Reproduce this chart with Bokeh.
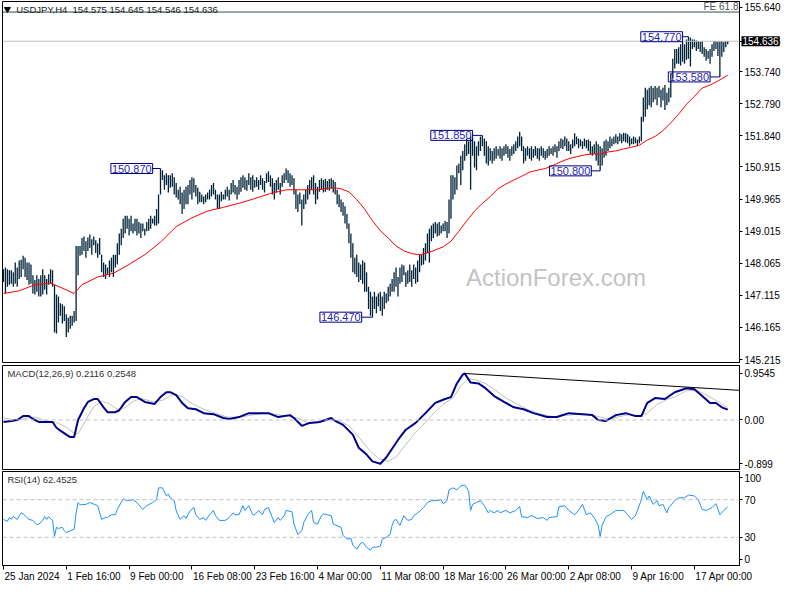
from bokeh.plotting import figure
from bokeh.layouts import column
from bokeh.models import Range1d, FixedTicker, PrintfTickFormatter, Label, Span
from bokeh.core.properties import value
from bokeh.embed import file_html
from bokeh.resources import INLINE

# ---------------- data ----------------
high = [
    147.89, 147.94, 147.89, 147.86, 147.86, 147.80, 148.09, 147.94, 148.15, 148.17,
    148.29, 148.23, 148.09, 148.09, 148.03, 147.71, 147.57, 147.71, 147.60, 147.71,
    147.89, 147.71, 147.60, 147.74, 147.89, 147.86, 147.43, 147.14, 147.08, 146.88,
    146.85, 146.79, 146.56, 146.45, 146.51, 146.51, 146.65, 148.58, 148.58, 148.58,
    148.81, 148.86, 148.72, 148.83, 148.92, 148.78, 148.86, 148.75, 148.66, 148.81,
    148.32, 148.09, 148.03, 147.94, 148.15, 148.23, 148.32, 148.32, 148.66, 148.95,
    149.09, 149.38, 149.47, 149.47, 149.38, 149.47, 149.24, 149.38, 149.38, 149.29,
    149.24, 149.24, 149.09, 149.29, 149.38, 149.47, 149.38, 149.47, 149.67, 150.10,
    150.87, 150.82, 150.67, 150.73, 150.67, 150.67, 150.73, 150.61, 150.44, 150.24,
    150.33, 150.16, 150.24, 150.33, 150.38, 150.53, 150.61, 150.58, 150.38, 150.30,
    150.18, 150.10, 150.04, 150.10, 150.16, 150.24, 150.38, 150.44, 150.24, 150.10,
    150.10, 150.18, 150.10, 150.24, 150.33, 150.24, 150.44, 150.53, 150.38, 150.33,
    150.53, 150.61, 150.67, 150.61, 150.53, 150.73, 150.61, 150.67, 150.53, 150.61,
    150.53, 150.67, 150.58, 150.50, 150.73, 150.79, 150.67, 150.58, 150.44, 150.53,
    150.61, 150.44, 150.67, 150.73, 150.87, 150.82, 150.73, 150.67, 150.58, 150.24,
    150.10, 150.16, 149.95, 150.10, 150.24, 150.38, 150.53, 150.61, 150.67, 150.44,
    150.33, 150.53, 150.58, 150.53, 150.56, 150.50, 150.56, 150.58, 150.53, 150.47,
    150.24, 150.10, 149.95, 149.87, 149.75, 149.52, 149.24, 148.95, 148.66, 148.23,
    148.32, 148.09, 148.03, 148.15, 148.09, 147.80, 147.37, 147.22, 147.08, 147.22,
    147.08, 147.17, 147.22, 147.08, 147.22, 147.17, 147.37, 147.46, 147.60, 147.80,
    147.94, 147.66, 147.94, 148.03, 148.00, 147.80, 147.86, 148.03, 147.86, 148.03,
    147.94, 148.15, 148.32, 148.32, 148.52, 148.66, 148.95, 149.09, 149.18, 149.24,
    149.29, 149.24, 149.29, 149.18, 149.24, 149.32, 149.29, 149.95, 150.67, 150.67,
    150.61, 150.96, 151.02, 151.25, 151.39, 151.59, 151.76, 151.68, 151.82, 151.76,
    151.68, 151.53, 151.68, 151.82, 151.85, 151.76, 151.68, 151.53, 151.47, 151.39,
    151.47, 151.53, 151.45, 151.53, 151.47, 151.53, 151.59, 151.53, 151.45, 151.53,
    151.59, 151.68, 151.82, 151.96, 151.82, 151.53, 151.47, 151.53, 151.47, 151.53,
    151.45, 151.53, 151.47, 151.47, 151.53, 151.47, 151.39, 151.45, 151.53, 151.47,
    151.53, 151.59, 151.53, 151.68, 151.76, 151.73, 151.82, 151.76, 151.68, 151.59,
    151.73, 151.91, 151.82, 151.76, 151.73, 151.68, 151.76, 151.71, 151.73, 151.68,
    151.53, 151.59, 151.68, 151.59, 151.53, 151.47, 151.68, 151.73, 151.68, 151.82,
    151.76, 151.82, 151.88, 151.82, 151.91, 151.88, 151.93, 151.91, 151.88, 151.82,
    151.76, 151.82, 151.79, 151.73, 151.82, 152.40, 152.97, 153.26, 153.20, 153.26,
    153.31, 153.26, 153.31, 153.26, 153.31, 153.20, 153.26, 153.34, 153.11, 153.26,
    153.69, 154.12, 154.41, 154.41, 154.46, 154.55, 154.61, 154.55, 154.69, 154.77,
    154.75, 154.69, 154.69, 154.66, 154.64, 154.61, 154.64, 154.46, 154.41, 154.35,
    154.41, 154.55, 154.64, 154.64, 154.61, 154.64, 154.64, 154.61, 154.64, 154.645,
]
low = [
    147.51, 147.17, 147.37, 147.43, 147.46, 147.37, 147.46, 147.37, 147.60, 147.66,
    147.89, 147.66, 147.57, 147.43, 147.46, 147.17, 147.14, 147.22, 147.08, 147.08,
    147.14, 147.28, 147.14, 147.43, 147.46, 147.37, 146.02, 145.99, 146.31, 146.51,
    146.28, 146.36, 145.88, 146.02, 146.13, 146.22, 146.31, 146.36, 147.71, 148.29,
    148.32, 148.43, 148.23, 148.43, 148.52, 148.32, 148.60, 148.37, 148.23, 148.32,
    147.80, 147.66, 147.60, 147.74, 147.66, 147.80, 147.66, 147.94, 148.03, 148.32,
    148.60, 148.81, 148.95, 149.09, 148.89, 149.01, 148.95, 149.01, 148.89, 148.95,
    148.81, 149.01, 148.89, 149.01, 149.03, 149.09, 149.24, 149.18, 149.18, 149.24,
    150.10, 150.53, 150.24, 150.38, 150.16, 150.30, 150.33, 150.10, 150.01, 149.95,
    149.81, 149.52, 149.67, 149.81, 149.81, 150.10, 149.95, 150.16, 150.04, 149.81,
    149.87, 149.87, 149.81, 149.87, 149.95, 149.95, 150.04, 150.10, 149.95, 149.67,
    149.67, 149.90, 149.95, 149.95, 150.04, 149.92, 150.10, 150.16, 150.10, 149.95,
    150.10, 150.18, 150.30, 150.24, 150.21, 150.38, 150.24, 150.18, 150.30, 150.33,
    150.24, 150.38, 150.24, 150.16, 150.44, 150.47, 150.33, 150.10, 149.95, 150.16,
    150.24, 150.10, 150.33, 150.44, 150.53, 150.44, 150.33, 150.38, 150.10, 149.67,
    149.58, 149.81, 149.18, 149.67, 149.81, 149.95, 150.10, 150.24, 150.10, 149.81,
    149.95, 150.18, 150.24, 150.16, 150.18, 150.24, 150.21, 150.27, 150.16, 150.10,
    149.81, 149.72, 149.58, 149.47, 149.24, 149.09, 148.66, 148.23, 147.80, 147.74,
    147.66, 147.51, 147.57, 147.46, 147.22, 147.22, 146.71, 146.51, 146.47, 146.71,
    146.59, 146.79, 146.65, 146.51, 146.71, 146.88, 146.94, 147.08, 147.22, 147.22,
    147.37, 147.08, 147.46, 147.51, 147.71, 147.37, 147.46, 147.51, 147.37, 147.60,
    147.46, 147.51, 147.80, 148.00, 148.03, 148.15, 148.37, 148.09, 148.72, 148.81,
    148.95, 148.86, 148.89, 148.95, 149.01, 149.01, 148.81, 148.95, 149.38, 149.95,
    150.10, 150.24, 150.73, 150.38, 150.82, 151.10, 151.25, 151.30, 150.24, 151.25,
    150.90, 150.82, 151.25, 151.39, 151.53, 151.25, 151.02, 150.96, 151.10, 151.02,
    151.10, 151.16, 151.25, 151.16, 151.10, 151.25, 151.30, 151.19, 151.10, 151.25,
    151.30, 151.39, 151.47, 151.53, 151.39, 151.02, 151.10, 151.25, 151.16, 151.10,
    151.19, 151.25, 151.16, 151.10, 151.25, 151.19, 151.13, 151.19, 151.25, 151.30,
    151.25, 151.35, 151.19, 151.39, 151.47, 151.45, 151.53, 151.39, 151.39, 151.30,
    151.47, 151.53, 151.59, 151.47, 151.53, 151.45, 151.53, 151.47, 151.39, 151.30,
    151.25, 151.30, 151.10, 150.96, 150.80, 150.96, 151.19, 151.25, 151.39, 151.47,
    151.53, 151.59, 151.62, 151.59, 151.68, 151.62, 151.68, 151.65, 151.62, 151.53,
    151.59, 151.59, 151.62, 151.53, 151.62, 151.68, 152.25, 152.40, 152.62, 152.74,
    152.68, 152.83, 152.91, 152.74, 152.97, 152.68, 152.88, 152.60, 152.74, 152.83,
    152.97, 153.54, 153.83, 153.97, 153.97, 153.92, 154.03, 153.97, 154.09, 154.12,
    153.89, 154.41, 154.46, 154.35, 154.41, 154.32, 154.26, 154.18, 154.06, 154.12,
    153.97, 154.18, 154.35, 154.41, 154.20, 153.58, 154.18, 154.32, 154.46, 154.546,
]
last_open = 154.575
last_close = 154.636
symbol = "USDJPY,H4"

# moving average (red), read at sampled bars
ma_pts = [(0, 147.17), (8, 147.25), (16, 147.43), (24, 147.48), (32, 147.28), (36, 147.17),
          (40, 147.43), (48, 147.66), (56, 147.77), (64, 148.03), (72, 148.32), (80, 148.69),
          (88, 149.15), (96, 149.41), (104, 149.61), (112, 149.72), (120, 149.84), (128, 149.98),
          (136, 150.13), (144, 150.24), (152, 150.24), (160, 150.24), (168, 150.30), (172, 150.27),
          (176, 150.18), (180, 149.95), (184, 149.67), (188, 149.32), (192, 149.03), (196, 148.81),
          (200, 148.58), (204, 148.43), (208, 148.35), (212, 148.32), (216, 148.37), (220, 148.46),
          (224, 148.55), (228, 148.72), (232, 149.01), (236, 149.32), (240, 149.61), (244, 149.84),
          (248, 150.04), (252, 150.27), (256, 150.41), (260, 150.53), (264, 150.64), (268, 150.76),
          (272, 150.82), (276, 150.87), (280, 150.96), (284, 151.07), (288, 151.16), (292, 151.22),
          (296, 151.27), (300, 151.30), (304, 151.30), (308, 151.36), (312, 151.39), (316, 151.45),
          (320, 151.50), (324, 151.56), (328, 151.71), (332, 151.82), (336, 151.99), (340, 152.22),
          (344, 152.48), (348, 152.77), (352, 153.00), (356, 153.25), (360, 153.34), (364, 153.46),
          (369, 153.63)]

macd_pts = [(0, -0.04), (4, -0.02), (7, 0.00), (10, 0.08), (13, 0.08), (15, 0.02), (18, -0.04),
            (21, -0.04), (25, -0.04), (27, -0.16), (29, -0.22), (32, -0.30), (34, -0.35), (36, -0.35),
            (38, 0.00), (41, 0.24), (43, 0.37), (46, 0.43), (48, 0.43), (51, 0.26), (53, 0.16),
            (57, 0.16), (59, 0.20), (62, 0.37), (65, 0.47), (68, 0.47), (72, 0.37), (77, 0.33),
            (80, 0.47), (83, 0.57), (85, 0.57), (88, 0.51), (91, 0.35), (94, 0.24), (98, 0.22),
            (102, 0.14), (107, 0.12), (112, 0.04), (115, 0.02), (120, 0.06), (125, 0.14), (130, 0.14),
            (135, 0.14), (140, 0.06), (146, 0.10), (148, 0.04), (152, -0.12), (156, -0.06),
            (161, -0.04), (167, 0.04), (169, -0.02), (173, -0.10), (178, -0.30), (181, -0.57),
            (185, -0.71), (188, -0.85), (192, -0.899), (195, -0.77), (198, -0.59), (201, -0.41),
            (205, -0.20), (210, -0.06), (215, 0.14), (220, 0.35), (225, 0.43), (228, 0.47),
            (231, 0.75), (234, 0.93), (235, 0.9545), (238, 0.77), (242, 0.75), (245, 0.67),
            (250, 0.49), (255, 0.37), (260, 0.26), (265, 0.22), (270, 0.14), (277, 0.06), (282, 0.06),
            (288, 0.14), (295, 0.12), (300, 0.10), (303, 0.00), (307, -0.02), (312, 0.10), (317, 0.14),
            (322, 0.08), (325, 0.08), (328, 0.35), (332, 0.45), (337, 0.43), (342, 0.57), (348, 0.65),
            (352, 0.63), (356, 0.49), (360, 0.35), (363, 0.35), (366, 0.26), (369, 0.2116)]

signal_pts = [(0, 0.05), (7, -0.02), (12, 0.04), (16, 0.06), (21, -0.01), (27, -0.05), (32, -0.15),
              (36, -0.27), (38, -0.28), (42, 0.00), (46, 0.27), (50, 0.39), (54, 0.33), (58, 0.22),
              (62, 0.25), (66, 0.38), (70, 0.44), (76, 0.38), (81, 0.40), (86, 0.52), (91, 0.48),
              (96, 0.34), (102, 0.22), (108, 0.14), (114, 0.06), (120, 0.05), (126, 0.10), (132, 0.13),
              (138, 0.12), (144, 0.08), (150, 0.04), (155, -0.06), (160, -0.06), (166, 0.00),
              (171, -0.02), (176, -0.12), (181, -0.35), (186, -0.60), (191, -0.79), (196, -0.85),
              (200, -0.76), (205, -0.50), (210, -0.25), (215, -0.05), (220, 0.17), (225, 0.35),
              (229, 0.45), (233, 0.70), (237, 0.85), (241, 0.82), (246, 0.74), (251, 0.60), (256, 0.45),
              (262, 0.32), (268, 0.20), (274, 0.12), (280, 0.07), (286, 0.09), (293, 0.12), (299, 0.11),
              (304, 0.06), (309, 0.02), (314, 0.07), (319, 0.11), (324, 0.09), (328, 0.14), (333, 0.32),
              (338, 0.42), (343, 0.49), (348, 0.60), (353, 0.61), (358, 0.52), (363, 0.40), (369, 0.2548)]

# MACD trend line through the two peaks
trend_a = (235, 0.9545)
trend_b = (348, 0.675)

rsi_pts = [(0, 49), (2, 47), (3, 51), (4, 49), (5, 52), (7, 49), (8, 53), (9, 56), (10, 55), (12, 51),
           (13, 49), (15, 48), (17, 43.6), (18, 44), (20, 48), (21, 52), (22, 49), (23, 52), (25, 48),
           (26, 31), (27, 40.5), (28, 39.5), (30, 40.5), (31, 37), (32, 35), (34, 37), (36, 38.5),
           (37, 56), (38, 67), (39, 64.5), (42, 65), (44, 67), (47, 64.5), (48, 63.6), (50, 49),
           (52, 51), (53, 51), (55, 54), (57, 54), (58, 59.6), (61, 71), (63, 69), (66, 70), (68, 67),
           (71, 59.6), (73, 63.6), (76, 67), (78, 70), (79, 82.6), (81, 82.6), (83, 74), (84, 76),
           (85, 72), (87, 69), (88, 58), (90, 49), (92, 53), (93, 50), (95, 58), (97, 61.6), (98, 54),
           (100, 49), (102, 51), (103, 48), (105, 54), (107, 58.6), (108, 53), (110, 48), (113, 48),
           (115, 51), (117, 56), (118, 54), (120, 54), (122, 63.6), (123, 58.6), (125, 63.6),
           (127, 54), (128, 54), (130, 58.6), (132, 54), (133, 59.6), (135, 61.6), (137, 51),
           (138, 45.8), (140, 51), (141, 48), (143, 53), (144, 58.6), (147, 57), (148, 44), (150, 33),
           (152, 37), (153, 45.8), (155, 54), (157, 58.6), (158, 45.8), (160, 44), (162, 53),
           (163, 55), (165, 54), (167, 53), (168, 44), (172, 40.5), (173, 32), (175, 28), (177, 29),
           (178, 21.6), (180, 17.4), (182, 23.7), (183, 24.7), (185, 19.5), (187, 16.3), (188, 19.5),
           (190, 19.5), (192, 20.5), (193, 28), (195, 30), (197, 33), (198, 42.6), (199, 48),
           (200, 49), (202, 42.6), (203, 48), (204, 53), (206, 48), (208, 49), (209, 53), (211, 56),
           (213, 59.6), (214, 61.6), (216, 67), (218, 69), (221, 69), (223, 70), (224, 65.8),
           (226, 69), (227, 80.5), (229, 82.6), (231, 80.5), (233, 84.7), (235, 85.8), (237, 79),
           (238, 58.6), (239, 65), (241, 67), (243, 69), (245, 63.6), (247, 56), (248, 58.6),
           (250, 56), (252, 58.6), (253, 56), (256, 58.6), (258, 56), (261, 58.6), (263, 62.6),
           (264, 52), (267, 51), (269, 53), (272, 50), (275, 51), (277, 48), (278, 51), (282, 52),
           (283, 62.6), (286, 63.6), (288, 58.6), (291, 54), (293, 58.6), (295, 65), (297, 54),
           (299, 56), (301, 51), (303, 42.6), (304, 31), (305, 42.6), (307, 52), (309, 54),
           (312, 58.6), (314, 58.6), (316, 58.6), (318, 54), (320, 49), (322, 53), (323, 58.6),
           (325, 70), (326, 79), (328, 70), (329, 74), (331, 65), (333, 69), (334, 63.6), (336, 65),
           (338, 56), (339, 61.6), (342, 69), (344, 72), (347, 72), (349, 75), (352, 74), (354, 70),
           (356, 59.6), (358, 58.6), (361, 61.6), (363, 65.8), (365, 54), (367, 58.6), (369, 62.4525)]

fe_level = 155.50
fe_name = "FE 61.8"

# swing labels: price, bar of the extreme, box right edge offset (bars)
swing_price = [150.870, 151.850, 150.800, 146.470, 154.770, 153.580]
swing_bar = [80, 244, 304, 188, 349, 365]
swing_box_off = [-4, -5, -4.5, -5.5, -3, -5]

time_ticks = [0, 32, 64, 96, 128, 160, 192, 224, 256, 288, 320, 352]
time_labels = ["25 Jan 2024", "1 Feb 16:00", "9 Feb 00:00", "16 Feb 08:00", "23 Feb 16:00",
               "4 Mar 00:00", "11 Mar 08:00", "18 Mar 16:00", "26 Mar 00:00", "2 Apr 08:00",
               "9 Apr 16:00", "17 Apr 00:00"]
price_ticks = [155.640, 154.636, 153.740, 152.790, 151.840, 150.915, 149.965, 149.015,
               148.065, 147.115, 146.165, 145.215]
macd_ticks = [0.9545, 0.0, -0.899]
rsi_levels = [70, 30]

# ---------------- styling ----------------
FONT = "Liberation Sans"
BAR_COLOR = "#002238"
FW = 737
X0, X1 = -0.5, 375.0
x_range = Range1d(X0, X1)


def base_fig(h, y0, y1, top=1, bottom=1, xaxis=False):
    p = figure(frame_width=FW, frame_height=h, x_range=x_range, y_range=Range1d(y0, y1),
               output_backend="svg", toolbar_location=None, tools="",
               x_axis_location="below" if xaxis else None, y_axis_location="right",
               min_border_left=2, min_border_right=45, min_border_top=top, min_border_bottom=bottom,
               background_fill_color="white", border_fill_color="white")
    p.outline_line_color = "black"
    p.outline_line_width = 1
    p.xgrid.grid_line_color = None
    p.ygrid.grid_line_color = None
    ax = p.yaxis[0]
    ax.axis_line_color = "black"
    ax.major_tick_out = 3
    ax.major_tick_in = 0
    ax.minor_tick_out = 0
    ax.minor_tick_in = 0
    ax.major_label_standoff = 2
    ax.major_label_text_font = FONT
    ax.major_label_text_font_size = "10px"
    ax.major_label_text_color = "black"
    return p


# ---- main price panel ----
main = base_fig(361, 145.129, 155.812, top=1, bottom=3)
main.yaxis[0].ticker = FixedTicker(ticks=price_ticks)
main.yaxis[0].formatter = PrintfTickFormatter(format="%.3f")

main.add_layout(Label(x=281.5, y=147.65, text="ActionForex.com", text_align="center",
                      text_baseline="middle", text_font=FONT, text_font_size="24px",
                      text_color="#c3c3c3", level="underlay"))

main.add_layout(Span(location=fe_level, dimension="width", line_color="#2f4f4f", line_width=1))
main.add_layout(Span(location=last_close, dimension="width", line_color="#c0c0c0", line_width=1))

idx = list(range(len(high)))
main.segment(x0=idx, y0=low, x1=idx, y1=high, line_color=BAR_COLOR, line_width=1.3)

ma_x, ma_y = zip(*ma_pts)
main.line(list(ma_x), list(ma_y), line_color="#ff0000", line_width=1)

for pr, b, off in zip(swing_price, swing_bar, swing_box_off):
    main.segment(x0=[b + off], y0=[pr], x1=[b], y1=[pr], line_color="#000080", line_width=1)
    main.add_layout(Label(x=b + off, y=pr, text=f"{pr:.3f}", text_align="right",
                          text_baseline="middle", text_font=FONT, text_font_size="11px",
                          text_color="#1f1fb8", border_line_color="#000080", border_line_width=1,
                          padding=1))

header = f"{symbol}\u00a0 {last_open:.3f} {high[-1]:.3f} {low[-1]:.3f} {last_close:.3f}"
main.scatter(x=[2], y=[155.585], marker="inverted_triangle", size=6, color="black")
main.add_layout(Label(x=6.5, y=155.585, text=header, text_baseline="middle", text_font=FONT,
                      text_font_size="9.5px", text_color="#202020"))
main.add_layout(Label(x=374.5, y=155.67, text=fe_name, text_align="right", text_baseline="middle",
                      text_font=FONT, text_font_size="10px", text_color="#505050"))
# current price tag on the price scale
main.add_layout(Label(x=X1, y=last_close, x_offset=2, text=f"{last_close:.3f}", text_align="left",
                      text_baseline="middle", text_font=FONT, text_font_size="10px",
                      text_color="white", background_fill_color="black", padding=1), "right")

# ---- MACD panel ----
macd = base_fig(104, -1.016, 1.118, top=0, bottom=1)
macd.yaxis[0].ticker = FixedTicker(ticks=macd_ticks)
macd.yaxis[0].major_label_overrides = {0.9545: "0.9545", 0.0: "0.00", -0.899: "-0.899"}
macd.add_layout(Span(location=0, dimension="width", line_color="#c0c0c0", line_width=1,
                     line_dash="4 3"))
sx, sy = zip(*signal_pts)
macd.line(list(sx), list(sy), line_color="#c0c0c0", line_width=1)
mx, my = zip(*macd_pts)
macd.line(list(mx), list(my), line_color="#00008b", line_width=2)
slope = (trend_b[1] - trend_a[1]) / (trend_b[0] - trend_a[0])
macd.line([trend_a[0], X1], [trend_a[1], trend_a[1] + slope * (X1 - trend_a[0])],
          line_color="black", line_width=1)
macd.add_layout(Label(x=2, y=0.955, text=f"MACD(12,26,9) {my[-1]:.4f} {sy[-1]:.4f}",
                      text_baseline="middle", text_font=FONT, text_font_size="9.5px",
                      text_color="#303030"))

# ---- RSI panel ----
rsi = base_fig(94, 0, 100, top=1, bottom=5, xaxis=True)
rsi.yaxis[0].ticker = FixedTicker(ticks=[93.2, 70, 30, 6.8])
rsi.yaxis[0].major_label_overrides = {93.2: "100", 70: "70", 30: "30", 6.8: "0"}
for lv in rsi_levels:
    rsi.add_layout(Span(location=lv, dimension="width", line_color="#c0c0c0", line_width=1,
                        line_dash="4 3"))
rx, ry = zip(*rsi_pts)
rsi.line(list(rx), list(ry), line_color="#1e90ff", line_width=1)
rsi.add_layout(Label(x=2, y=91, text=f"RSI(14) {ry[-1]:.4f}", text_baseline="middle",
                     text_font=FONT, text_font_size="9.5px", text_color="#303030"))

xa = rsi.xaxis[0]
xa.ticker = FixedTicker(ticks=time_ticks)
xa.major_label_overrides = {t: "" for t in time_ticks}
xa.axis_line_color = "black"
xa.major_tick_out = 4
xa.major_tick_in = 0
xa.minor_tick_out = 0
xa.minor_tick_in = 0
xa.major_label_standoff = 0
xa.major_label_text_font_size = "1px"

# ---- time label strip (same bar scale, wider frame so labels are not cut) ----
STRIP_W = 782
px_per_bar = FW / (X1 - X0)
strip = figure(frame_width=STRIP_W, frame_height=14,
               x_range=Range1d(X0, X0 + STRIP_W / px_per_bar), y_range=Range1d(0, 1),
               output_backend="svg", toolbar_location=None, tools="",
               x_axis_location=None, y_axis_location=None,
               min_border_left=2, min_border_right=0, min_border_top=0, min_border_bottom=0)
strip.outline_line_color = None
strip.xgrid.grid_line_color = None
strip.ygrid.grid_line_color = None
strip.text(x=time_ticks, y=[0.55] * len(time_ticks), text=time_labels, x_offset=1,
           text_align="left", text_baseline="middle", text_font=value(FONT),
           text_font_size="10px", text_color="black")

layout = column(main, macd, rsi, strip, spacing=0)
open("out.html", "w").write(file_html(layout, INLINE))
